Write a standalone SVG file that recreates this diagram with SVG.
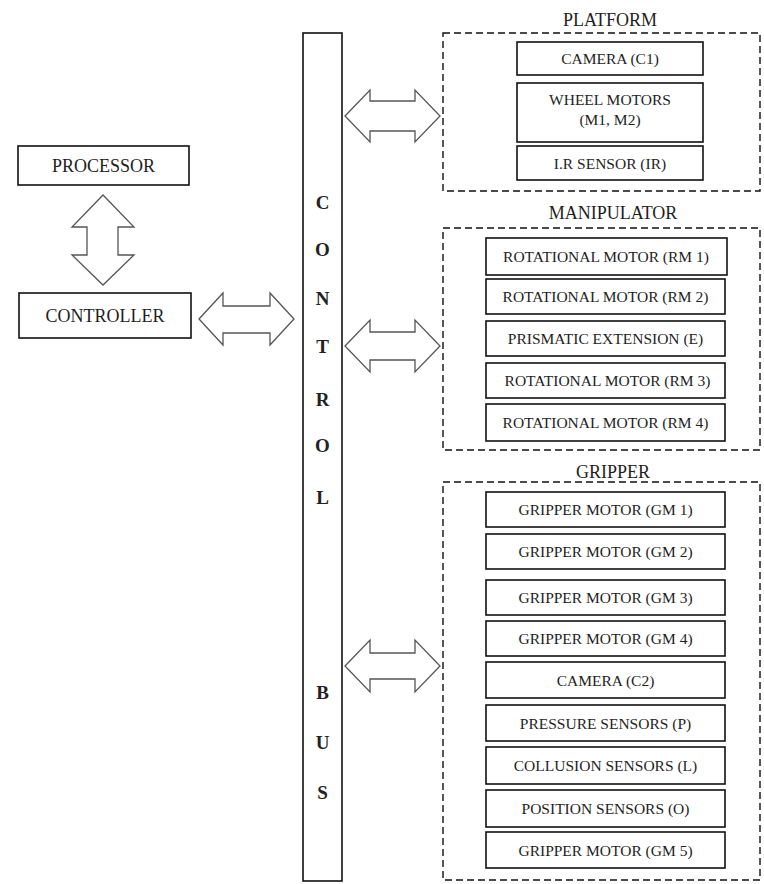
<svg xmlns="http://www.w3.org/2000/svg" width="764" height="884" viewBox="0 0 764 884">
<style>
text{font-family:"Liberation Serif","Times New Roman",serif;fill:#1e1e1e;text-anchor:middle;dominant-baseline:central}
.box{fill:#fff;stroke:#111;stroke-width:1.6}
.grp{fill:none;stroke:#111;stroke-width:1.4;stroke-dasharray:7 4}
.arr{fill:#fff;stroke:#555;stroke-width:1.3;stroke-linejoin:miter}
.big{font-size:18px}
.sm{font-size:15.5px}
.bus{font-size:19px;font-weight:bold;fill:#222}
</style>
<rect width="764" height="884" fill="#fff"/>

<g id="processor"><rect class="box" x="18" y="146" width="171" height="39"/><text class="big" x="103.5" y="165.5">PROCESSOR</text></g>
<g id="controller"><rect class="box" x="19" y="293" width="172" height="45"/><text class="big" x="105" y="315.5">CONTROLLER</text></g>

<g id="control-bus"><rect class="box" x="303" y="33" width="39" height="848"/>
<text class="bus" x="322.5" y="202">C</text><text class="bus" x="322.5" y="249">O</text><text class="bus" x="322.5" y="298">N</text><text class="bus" x="322.5" y="346">T</text><text class="bus" x="322.5" y="399">R</text><text class="bus" x="322.5" y="445">O</text><text class="bus" x="322.5" y="497">L</text><text class="bus" x="322.5" y="692">B</text><text class="bus" x="322.5" y="742">U</text><text class="bus" x="322.5" y="792">S</text>
</g>

<g id="platform">
<text class="big" x="610" y="20">PLATFORM</text>
<rect class="grp" x="443" y="33" width="317" height="158"/>
<g id="camera-c1"><rect class="box" x="517" y="42" width="186" height="33"/><text class="sm" x="610" y="58.5">CAMERA (C1)</text></g>
<g id="wheel-motors"><rect class="box" x="517" y="83" width="186" height="59"/><text class="sm" x="610" y="99">WHEEL MOTORS</text><text class="sm" x="610" y="119">(M1, M2)</text></g>
<g id="ir-sensor"><rect class="box" x="517" y="146" width="186" height="34"/><text class="sm" x="610" y="163">I.R SENSOR (IR)</text></g>
</g>

<g id="manipulator">
<text class="big" x="613" y="213">MANIPULATOR</text>
<rect class="grp" x="443" y="228" width="317" height="222"/>
<g id="rm1"><rect class="box" x="486" y="238" width="241" height="37"/><text class="sm" x="606" y="256.5">ROTATIONAL MOTOR (RM 1)</text></g>
<g id="rm2"><rect class="box" x="486" y="279" width="239" height="35"/><text class="sm" x="605.5" y="296.5">ROTATIONAL MOTOR (RM 2)</text></g>
<g id="prismatic"><rect class="box" x="486" y="321" width="239" height="35"/><text class="sm" x="605.5" y="338.5">PRISMATIC EXTENSION (E)</text></g>
<g id="rm3"><rect class="box" x="486" y="363" width="239" height="35"/><text class="sm" x="607.5" y="380.5">ROTATIONAL MOTOR (RM 3)</text></g>
<g id="rm4"><rect class="box" x="486" y="404" width="239" height="37"/><text class="sm" x="605.5" y="422.5">ROTATIONAL MOTOR (RM 4)</text></g>
</g>

<g id="gripper">
<text class="big" x="613" y="472">GRIPPER</text>
<rect class="grp" x="443" y="482" width="317" height="398"/>
<g id="gm1"><rect class="box" x="486" y="492" width="239" height="35"/><text class="sm" x="605.5" y="509.5">GRIPPER MOTOR (GM 1)</text></g>
<g id="gm2"><rect class="box" x="486" y="534" width="239" height="35"/><text class="sm" x="605.5" y="551.5">GRIPPER MOTOR (GM 2)</text></g>
<g id="gm3"><rect class="box" x="486" y="580" width="239" height="35"/><text class="sm" x="605.5" y="597.5">GRIPPER MOTOR (GM 3)</text></g>
<g id="gm4"><rect class="box" x="486" y="621" width="239" height="35"/><text class="sm" x="605.5" y="638.5">GRIPPER MOTOR (GM 4)</text></g>
<g id="camera-c2"><rect class="box" x="486" y="662" width="239" height="36"/><text class="sm" x="605.5" y="680">CAMERA (C2)</text></g>
<g id="pressure"><rect class="box" x="486" y="705" width="239" height="36"/><text class="sm" x="605.5" y="723">PRESSURE SENSORS (P)</text></g>
<g id="collusion"><rect class="box" x="486" y="747" width="239" height="37"/><text class="sm" x="605.5" y="765.5">COLLUSION SENSORS (L)</text></g>
<g id="position"><rect class="box" x="486" y="790" width="239" height="37"/><text class="sm" x="605.5" y="808.5">POSITION SENSORS (O)</text></g>
<g id="gm5"><rect class="box" x="486" y="832" width="239" height="36"/><text class="sm" x="605.5" y="850">GRIPPER MOTOR (GM 5)</text></g>
</g>

<g id="connectors">
<polygon class="arr" points="103,195 134,227 118,227 118,255 134,255 103,285 72,255 87,255 87,227 72,227"/>
<polygon class="arr" points="199,319 223,293 223,306 270,306 270,293 294,319 270,345 270,333 223,333 223,345"/>
<polygon class="arr" points="345,116 370,90 370,101 415,101 415,90 440,116 415,142 415,131 370,131 370,142"/>
<polygon class="arr" points="345,346 370,320 370,332 415,332 415,320 440,346 415,372 415,360 370,360 370,372"/>
<polygon class="arr" points="345,666 370,640 370,653 415,653 415,640 440,666 415,692 415,679 370,679 370,692"/>
</g>
</svg>
